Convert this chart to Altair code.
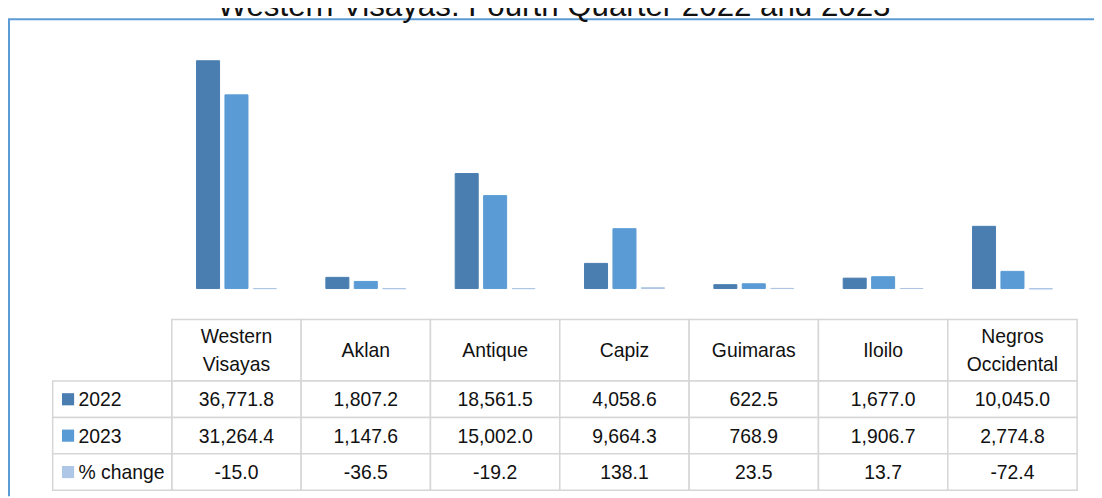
import altair as alt
import pandas as pd

# ---- data ----
categories = ["Western Visayas", "Aklan", "Antique", "Capiz", "Guimaras", "Iloilo", "Negros Occidental"]
header_labels = ["Western\nVisayas", "Aklan", "Antique", "Capiz", "Guimaras", "Iloilo", "Negros\nOccidental"]
series = ["2022", "2023", "% change"]
values_2022 = [36771.8, 1807.2, 18561.5, 4058.6, 622.5, 1677.0, 10045.0]
values_2023 = [31264.4, 1147.6, 15002.0, 9664.3, 768.9, 1906.7, 2774.8]
pct_change = [-15.0, -36.5, -19.2, 138.1, 23.5, 13.7, -72.4]
title_text = "Western Visayas: Fourth Quarter 2022 and 2023"

# ---- styling / layout ----
colors = ["#4A7EB0", "#5B9BD5", "#AEC7E6"]
grid_color = "#D6D6D6"
frame_color = "#5B9BD5"
FONT = "Liberation Sans"
FS = 19.5
LH = 28
W, H = 1094, 490
COL_X = [165, 1077]
LEG_X = [45, 165]
BAR_Y = [312, 0]
HDR_Y = [312, 374]
BODY_Y = [374, 484]
FRAME_TOP = 9.5

# ---- tables ----
series_values = [values_2022, values_2023, pct_change]
bars_df = pd.DataFrame(
    [{"cat": c, "series": s, "value": vals[i]}
     for s, vals in zip(series, series_values)
     for i, c in enumerate(categories)]
)
hdr_df = pd.DataFrame({"cat": categories, "label": header_labels, "row": "header"})
hdr_df["lines"] = hdr_df["label"].str.count("\n") + 1


def fmt(v):
    return f"{v:,.1f}"


body_df = pd.DataFrame(
    [{"cat": c, "row": s, "label": fmt(vals[i])}
     for s, vals in zip(series, series_values)
     for i, c in enumerate(categories)]
)
leg_df = pd.DataFrame({"col": "legend", "row": series})

x_cat = alt.X("cat:N", scale=alt.Scale(domain=categories, range=COL_X, paddingInner=0, paddingOuter=0), axis=None)
y_hdr = alt.Y("row:N", scale=alt.Scale(domain=["header"], range=HDR_Y, paddingInner=0, paddingOuter=0), axis=None)
y_body = alt.Y("row:N", scale=alt.Scale(domain=series, range=BODY_Y, paddingInner=0, paddingOuter=0), axis=None)
x_leg = alt.X("col:N", scale=alt.Scale(domain=["legend"], range=LEG_X, paddingInner=0, paddingOuter=0), axis=None)
color_scale = alt.Scale(domain=series, range=colors)

bars = alt.Chart(bars_df).mark_bar(strokeWidth=1).encode(
    x=x_cat,
    xOffset=alt.XOffset("series:N", scale=alt.Scale(domain=series, paddingInner=0.19, paddingOuter=0.87)),
    y=alt.Y("value:Q", stack=None, scale=alt.Scale(domain=[-5000, 45000], range=BAR_Y, nice=False, zero=True), axis=None),
    color=alt.Color("series:N", scale=color_scale, legend=None),
    stroke=alt.Stroke("series:N", scale=color_scale, legend=None),
)

hdr_cells = alt.Chart(hdr_df).mark_rect(fill="white", stroke=grid_color, strokeWidth=1.5).encode(x=x_cat, y=y_hdr)
hdr_text1 = alt.Chart(hdr_df).transform_filter("datum.lines == 1").mark_text(
    font=FONT, fontSize=FS, baseline="middle", align="center", color="#111111", dy=1
).encode(x=x_cat, y=y_hdr, text="label:N")
hdr_text2 = alt.Chart(hdr_df).transform_filter("datum.lines == 2").mark_text(
    font=FONT, fontSize=FS, lineBreak="\n", lineHeight=LH, baseline="middle", align="center",
    color="#111111", dy=1 - LH / 2
).encode(x=x_cat, y=y_hdr, text="label:N")

body_cells = alt.Chart(body_df).mark_rect(fill="white", stroke=grid_color, strokeWidth=1.5).encode(x=x_cat, y=y_body)
body_text = alt.Chart(body_df).mark_text(
    font=FONT, fontSize=FS, baseline="middle", align="center", color="#111111", dy=1
).encode(x=x_cat, y=y_body, text="label:N")

leg_cells = alt.Chart(leg_df).mark_rect(fill="white", stroke=grid_color, strokeWidth=1.5).encode(x=x_leg, y=y_body)
leg_marks = alt.Chart(leg_df).mark_point(shape="square", filled=True, size=150, opacity=1, xOffset=-44.5).encode(
    x=x_leg, y=y_body, color=alt.Color("row:N", scale=color_scale, legend=None)
)
leg_text = alt.Chart(leg_df).mark_text(
    font=FONT, fontSize=FS, baseline="middle", align="left", dx=-34, dy=1, color="#111111"
).encode(x=x_leg, y=y_body, text="row:N")

one = pd.DataFrame({"k": [0]})
frame_top = alt.Chart(one).mark_rule(color=frame_color, strokeWidth=2).encode(
    x=alt.value(0), x2=alt.value(W), y=alt.value(FRAME_TOP)
)
frame_left = alt.Chart(one).mark_rule(color=frame_color, strokeWidth=2).encode(
    x=alt.value(1), y=alt.value(FRAME_TOP), y2=alt.value(H)
)
title = alt.Chart(pd.DataFrame({"t": [title_text]})).mark_text(
    font=FONT, fontSize=31.5, align="center", baseline="alphabetic", color="#111111"
).encode(x=alt.value(550), y=alt.value(6), text="t:N")

chart = alt.layer(
    bars, hdr_cells, hdr_text1, hdr_text2, body_cells, body_text, leg_cells, leg_marks, leg_text,
    frame_top, frame_left, title,
).resolve_scale(
    x="independent", y="independent"
).properties(
    width=W, height=H, padding=0, autosize=alt.AutoSizeParams(type="none"), background="white"
).configure_view(stroke=None)

chart.save("out.html", embed_options={"renderer": "svg", "actions": False})
